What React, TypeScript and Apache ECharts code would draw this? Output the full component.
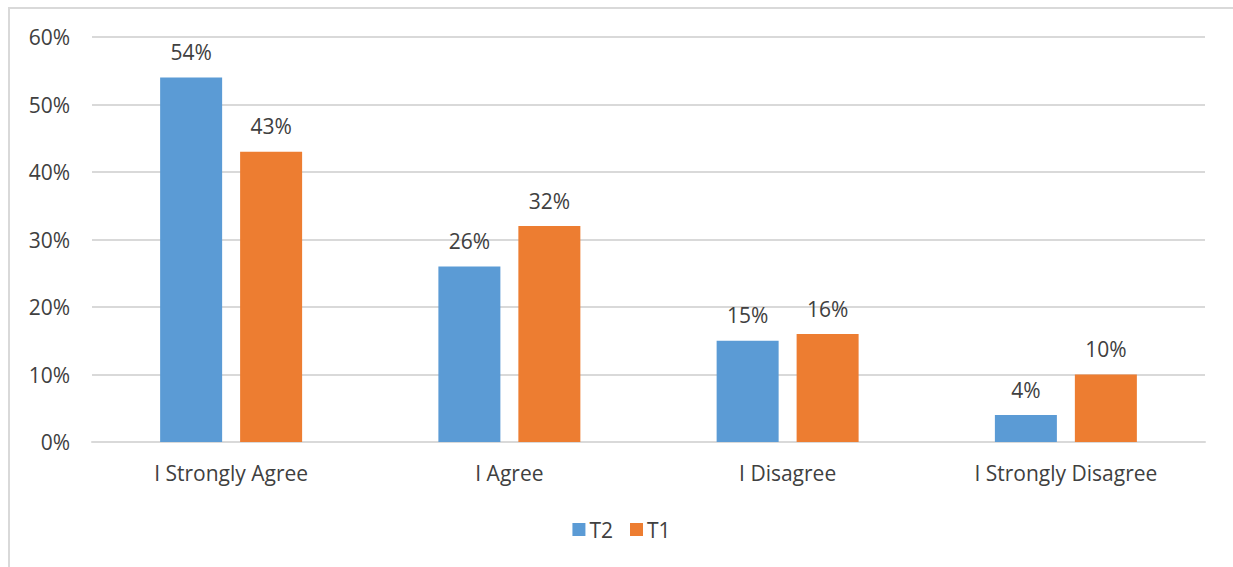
import React, { useEffect, useRef } from "react";
import * as echarts from "echarts";

const categories = ["I Strongly Agree", "I Agree", "I Disagree", "I Strongly Disagree"];
const t2Values = [54, 26, 15, 4];
const t1Values = [43, 32, 16, 10];
const seriesNames = ["T2", "T1"];

export default function App() {
  const ref = useRef<HTMLDivElement>(null);
  useEffect(() => {
    if (!ref.current) return;
    const chart = echarts.init(ref.current, null, { renderer: "svg" });
    const font = "'Open Sans', 'Noto Sans', sans-serif";
    const fs = 21;
    const label = {
      show: true,
      position: "top" as const,
      distance: 15,
      formatter: "{c}%",
      color: "#404040",
      fontSize: fs,
      fontFamily: font,
    };
    chart.setOption({
      animation: false,
      textStyle: { fontFamily: font },
      grid: { left: 82, right: 28, top: 28, bottom: 125 },
      legend: {
        data: seriesNames,
        top: 505,
        left: "center",
        itemWidth: 13,
        itemHeight: 13,
        itemGap: 17,
        icon: "rect",
        textStyle: { color: "#404040", fontSize: fs, fontFamily: font, padding: [0, 0, 0, -1] },
      },
      xAxis: {
        type: "category",
        data: categories,
        axisLine: { lineStyle: { color: "#d9d9d9", width: 2 } },
        axisTick: { show: false },
        axisLabel: { color: "#404040", fontSize: fs, fontFamily: font, margin: 20 },
      },
      yAxis: {
        type: "value",
        min: 0,
        max: 60,
        interval: 10,
        axisLabel: { formatter: "{value}%", color: "#404040", fontSize: fs, fontFamily: font, margin: 22 },
        splitLine: { lineStyle: { color: "#d9d9d9", width: 2 } },
        axisLine: { show: false },
        axisTick: { show: false },
      },
      series: [
        {
          name: seriesNames[0],
          type: "bar",
          data: t2Values,
          barWidth: 62,
          barGap: "29%",
          itemStyle: { color: "#5B9BD5" },
          label,
        },
        {
          name: seriesNames[1],
          type: "bar",
          data: t1Values,
          barWidth: 62,
          itemStyle: { color: "#ED7D31" },
          label,
        },
      ],
    });
    return () => chart.dispose();
  }, []);
  return (
    <div
      style={{
        position: "fixed",
        left: 8,
        top: 7,
        width: 1225,
        height: 560,
        borderLeft: "2px solid #d9d9d9",
        borderTop: "2px solid #d9d9d9",
        boxSizing: "border-box",
        background: "#fff",
      }}
    >
      <div ref={ref} style={{ width: "100%", height: "100%" }} />
    </div>
  );
}
